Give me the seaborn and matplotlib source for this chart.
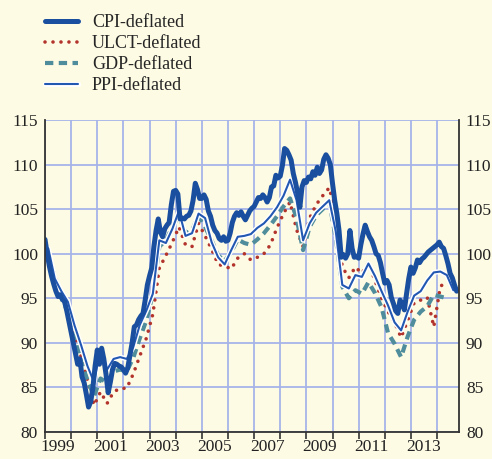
import numpy as np
import pandas as pd
import matplotlib
matplotlib.use("Agg")
import matplotlib.pyplot as plt
import matplotlib.patheffects as pe
import seaborn as sns

#%% Data (index)

# CPI-deflated, monthly Jan 1999 - Oct 2014
cpi = [
    101.6, 100.0, 98.6, 97.5, 96.6, 95.8, 95.2, 95.4, 94.9, 94.6, 93.6, 92.4,        # 1999
    91.2, 90.0, 88.8, 87.6, 88.2, 86.2, 85.5, 84.2, 82.8, 83.4, 85.0, 87.4,          # 2000
    89.2, 87.6, 89.4, 88.2, 86.5, 84.4, 85.6, 87.0, 87.7, 87.6, 87.4, 87.3,          # 2001
    87.0, 86.6, 87.2, 88.6, 90.0, 91.8, 92.0, 92.6, 93.0, 93.3, 94.8, 96.5,          # 2002
    97.5, 98.4, 100.8, 102.6, 103.9, 102.4, 101.9, 102.8, 103.2, 103.5, 105.5, 107.0,  # 2003
    107.1, 106.7, 103.9, 104.0, 103.9, 104.2, 104.3, 104.8, 106.0, 107.9, 107.2, 106.2,  # 2004
    106.2, 106.6, 106.1, 104.8, 104.2, 103.2, 102.6, 102.3, 101.7, 101.5, 101.9, 101.4,  # 2005
    101.5, 102.3, 103.5, 104.2, 104.6, 104.3, 104.7, 104.2, 103.8, 104.3, 104.8, 105.1,  # 2006
    105.3, 105.8, 106.3, 106.2, 106.6, 106.3, 105.8, 106.3, 107.5, 107.6, 108.8, 108.5,  # 2007
    108.7, 109.9, 111.8, 111.6, 111.1, 110.5, 109.0, 108.0, 106.8, 105.2, 107.5, 108.2,  # 2008
    108.0, 108.6, 108.4, 109.2, 108.8, 109.7, 109.0, 109.4, 110.6, 111.1, 110.7, 110.0,  # 2009
    107.9, 106.0, 104.5, 102.6, 99.6, 99.9, 99.5, 100.0, 102.6, 100.6, 99.6, 99.7,   # 2010
    99.5, 101.0, 102.2, 103.2, 102.5, 101.9, 101.5, 100.8, 100.0, 99.8, 99.0, 97.8,  # 2011
    96.7, 97.0, 96.5, 95.1, 94.4, 93.6, 93.3, 94.8, 94.4, 93.7, 95.5, 97.2,          # 2012
    98.5, 97.8, 98.4, 99.3, 99.0, 99.4, 99.6, 99.9, 100.2, 100.4, 100.6, 100.8,      # 2013
    101.0, 101.3, 100.8, 100.6, 99.8, 98.9, 97.8, 97.3, 96.5, 95.8,                  # 2014
]

# PPI-deflated, quarterly Q1 1999 - Q3 2014
ppi = [
    100.6, 97.2, 95.8, 94.6,
    92.0, 89.8, 87.4, 85.6,
    89.3, 87.0, 88.2, 88.4,
    88.2, 89.5, 92.0, 93.6,
    95.5, 101.5, 101.2, 102.8,
    104.8, 102.0, 102.3, 104.5,
    104.0, 101.3, 99.6, 98.8,
    100.4, 101.9, 102.0, 102.2,
    102.9, 103.4, 104.2, 105.2,
    106.5, 108.3, 106.0, 101.5,
    103.4, 104.6, 105.3, 106.0,
    102.5, 96.5, 96.1, 97.6,
    97.4, 98.9, 97.5, 95.8,
    94.2, 92.3, 91.4, 93.5,
    95.3, 95.8, 97.0, 97.9,
    98.0, 97.6, 95.9,
]

# GDP-deflated, quarterly Q1 1999 - Q2 2014
gdp = [
    100.0, 97.0, 95.0, 93.5,
    91.0, 88.0, 85.8, 84.0,
    86.0, 85.5, 86.8, 87.0,
    86.8, 88.3, 90.5, 92.5,
    95.5, 100.8, 101.5, 103.0,
    104.3, 102.3, 102.6, 104.3,
    103.0, 101.5, 99.8, 99.2,
    100.2, 101.6, 101.2, 101.0,
    101.6, 102.3, 103.2, 104.2,
    105.3, 106.2, 104.0, 100.4,
    103.0, 104.3, 105.0, 105.8,
    101.8, 96.3, 95.0, 95.9,
    95.5, 96.8, 95.6, 94.0,
    91.1, 89.9, 88.4, 90.7,
    92.6, 93.5, 94.1, 95.4,
    95.2, 95.0,
]

# ULCT-deflated, quarterly Q1 1999 - Q2 2014
ulct = [
    100.5, 97.5, 95.5, 93.5,
    91.0, 88.5, 85.8, 83.0,
    84.5, 83.2, 84.5, 84.9,
    84.9, 86.5, 88.5, 90.5,
    93.2, 98.4, 99.8, 101.3,
    103.0, 101.0, 100.8, 103.4,
    102.0, 100.5, 98.8, 98.6,
    98.3, 99.5, 100.0, 99.3,
    99.6, 100.0, 101.0, 102.9,
    104.5, 105.8, 102.7, 100.8,
    104.0, 105.5, 106.5, 107.4,
    104.5, 98.5, 97.3, 98.5,
    97.8, 99.0, 97.0, 95.0,
    93.5, 92.3, 90.6, 92.5,
    94.5, 94.8, 95.1, 91.8,
    96.3, 97.0,
]

year_labels = ["1999", "2001", "2003", "2005", "2007", "2009", "2011", "2013"]


def decimal_year(dates, offset=0.0):
    return np.asarray(dates.year + (dates.month - 1) / 12 + offset)


monthly = pd.DataFrame({
    "t": decimal_year(pd.date_range("1999-01-01", periods=len(cpi), freq="MS")),
    "CPI": cpi})

# quarterly obs plotted at mid-quarter
q_ppi = pd.DataFrame({
    "t": decimal_year(pd.date_range("1999-01-01", periods=len(ppi), freq="QS"), 0.125),
    "PPI": ppi})
q_gdp = pd.DataFrame({
    "t": decimal_year(pd.date_range("1999-01-01", periods=len(gdp), freq="QS"), 0.125),
    "GDP": gdp,
    "ULCT": ulct})

#%% Plot

bg = "#fefbe4"
sns.set_style("white", rc={"axes.facecolor": bg, "figure.facecolor": bg})
plt.rcParams["font.family"] = ["Liberation Serif", "DejaVu Serif"]

fig = plt.figure(figsize=(4.92, 4.59), dpi=100)
ax = fig.add_axes([45 / 492, 27 / 459, 414 / 492, 312 / 459])

blue = "#1a4f9f"
sns.lineplot(data=q_gdp, x="t", y="ULCT", ax=ax, color="#b3342c", lw=2.6,
             linestyle=(0, (0.01, 2.2)), dash_capstyle="round",
             label="ULCT-deflated")
sns.lineplot(data=q_gdp, x="t", y="GDP", ax=ax, color="#4f8d9c", lw=3.0,
             linestyle=(0, (2.0, 1.3)), label="GDP-deflated")
sns.lineplot(data=q_ppi, x="t", y="PPI", ax=ax, color="#2258b2", lw=1.5,
             path_effects=[pe.Stroke(linewidth=3.6, foreground="white"), pe.Normal()],
             label="PPI-deflated")
sns.lineplot(data=monthly, x="t", y="CPI", ax=ax, color=blue, lw=3.6,
             solid_joinstyle="round", label="CPI-deflated")

ax.set_xlim(1999, 2014.84)
ax.set_ylim(80, 115)
ax.set_xlabel("")
ax.set_ylabel("")

# year boundaries as ticks/grid, labels centred in the year
ax.set_xticks(np.arange(1999, 2015), labels=[])
ax.set_xticks([int(y) + 0.5 for y in year_labels], labels=year_labels, minor=True)
ax.set_yticks(np.arange(80, 116, 5))

ax.grid(True, which="major", color="#a6b3e8", lw=1.3)
ax.tick_params(axis="x", which="major", length=5, width=1.2, color="#333333",
               direction="out", bottom=True)
ax.tick_params(axis="x", which="minor", length=0, pad=5, labelsize=12.5,
               labelcolor="#222222")
ax.tick_params(axis="y", length=0, pad=5, labelsize=12.5, labelcolor="#222222",
               left=False, right=False, labelleft=True, labelright=True)

for side in ["left", "right", "bottom"]:
    ax.spines[side].set_visible(True)
    ax.spines[side].set_color("#333333")
    ax.spines[side].set_linewidth(1.3)
ax.spines["top"].set_visible(False)

handles, labels = ax.get_legend_handles_labels()
ax.get_legend().remove()
order = ["CPI-deflated", "ULCT-deflated", "GDP-deflated", "PPI-deflated"]
hmap = dict(zip(labels, handles))
fig.legend([hmap[k] for k in order], order, loc="upper left",
           bbox_to_anchor=(45 / 492, 1 - 14 / 459), frameon=False,
           fontsize=13, handlelength=1.8, handletextpad=0.8,
           labelspacing=0.22, borderpad=0, borderaxespad=0)

plt.savefig("out.png", dpi=100, facecolor=bg)
